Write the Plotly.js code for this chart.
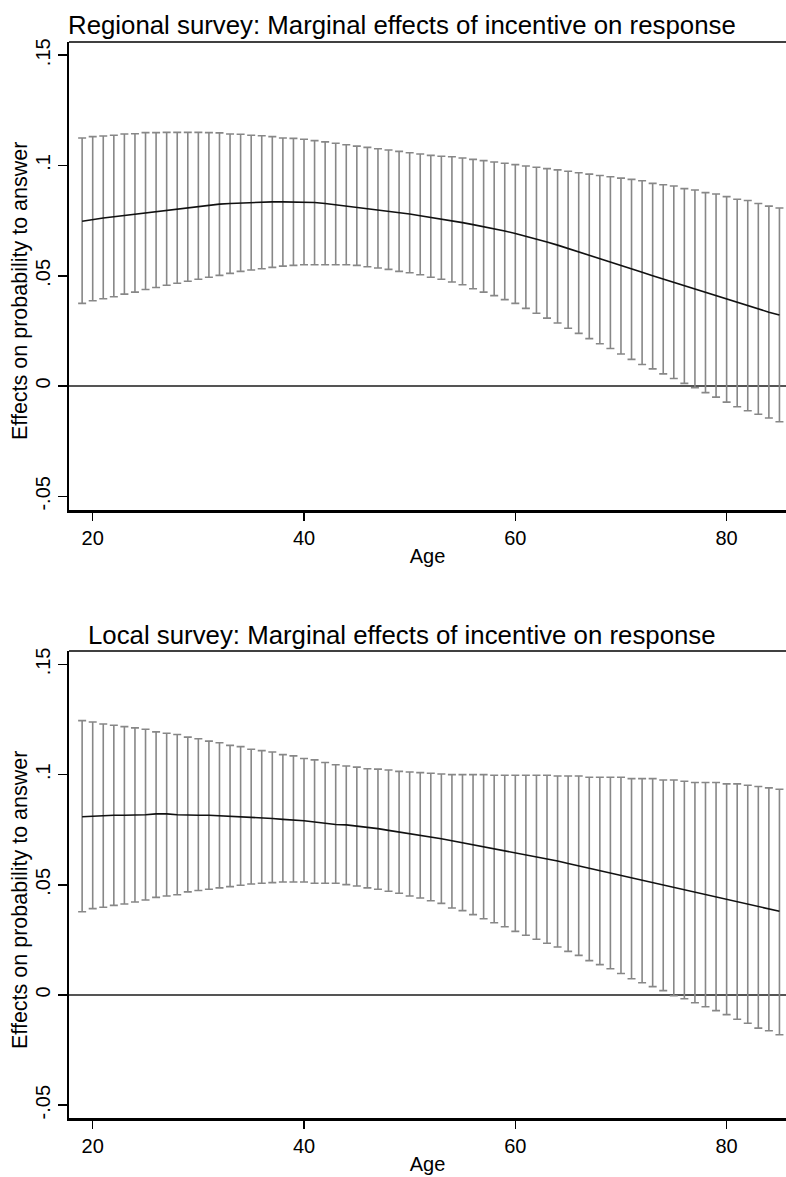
<!DOCTYPE html>
<html>
<head>
<meta charset="utf-8">
<script src="https://cdn.plot.ly/plotly-3.0.1.min.js"></script>
<style>
  html, body { margin: 0; padding: 0; background: #ffffff; }
  #chart { width: 786px; height: 1177px; }
</style>
</head>
<body>
<div id="chart"></div>
<script>
const ages = [19,20,21,22,23,24,25,26,27,28,29,30,31,32,33,34,35,36,37,38,39,40,41,42,43,44,45,46,47,48,49,50,51,52,53,54,55,56,57,58,59,60,61,62,63,64,65,66,67,68,69,70,71,72,73,74,75,76,77,78,79,80,81,82,83,84,85];

const regionalEst = [0.0747,0.0756,0.0762,0.0768,0.0774,0.0780,0.0786,0.0792,0.0798,0.0804,0.0810,0.0816,0.0822,0.0825,0.0828,0.0830,0.0833,0.0834,0.0835,0.0835,0.0835,0.0834,0.0832,0.0828,0.0822,0.0817,0.0812,0.0807,0.0801,0.0795,0.0787,0.0780,0.0772,0.0765,0.0757,0.0749,0.0741,0.0732,0.0723,0.0713,0.0703,0.0692,0.0680,0.0667,0.0653,0.0639,0.0624,0.0609,0.0594,0.0578,0.0562,0.0546,0.0531,0.0516,0.0500,0.0485,0.0469,0.0454,0.0438,0.0423,0.0408,0.0393,0.0378,0.0363,0.0349,0.0335,0.0322];
const regionalUpper = [0.1125,0.1131,0.1134,0.1137,0.1143,0.1144,0.1149,0.1149,0.1150,0.1150,0.1150,0.1150,0.1149,0.1148,0.1143,0.1142,0.1137,0.1135,0.1131,0.1125,0.1123,0.1119,0.1113,0.1107,0.1101,0.1094,0.1088,0.1082,0.1076,0.1070,0.1064,0.1058,0.1052,0.1046,0.1042,0.1040,0.1034,0.1028,0.1022,0.1016,0.1010,0.1004,0.0998,0.0992,0.0986,0.0980,0.0974,0.0967,0.0961,0.0955,0.0949,0.0943,0.0937,0.0931,0.0919,0.0913,0.0907,0.0895,0.0889,0.0877,0.0871,0.0859,0.0847,0.0841,0.0828,0.0816,0.0807];
const regionalLower = [0.0375,0.0387,0.0396,0.0405,0.0417,0.0426,0.0438,0.0447,0.0457,0.0466,0.0475,0.0484,0.0493,0.0502,0.0511,0.0520,0.0526,0.0532,0.0538,0.0544,0.0547,0.0550,0.0550,0.0550,0.0550,0.0550,0.0547,0.0541,0.0535,0.0529,0.0520,0.0514,0.0505,0.0493,0.0484,0.0472,0.0459,0.0441,0.0426,0.0410,0.0392,0.0375,0.0352,0.0330,0.0308,0.0286,0.0262,0.0239,0.0215,0.0192,0.0170,0.0145,0.0121,0.0098,0.0078,0.0055,0.0034,0.0012,-0.0008,-0.0030,-0.0050,-0.0073,-0.0094,-0.0112,-0.0128,-0.0145,-0.0162];

const localEst = [0.0809,0.0812,0.0816,0.0816,0.0816,0.0816,0.0818,0.0822,0.0822,0.0818,0.0816,0.0816,0.0816,0.0814,0.0810,0.0809,0.0808,0.0803,0.0801,0.0797,0.0795,0.0791,0.0785,0.0779,0.0774,0.0772,0.0767,0.0761,0.0755,0.0747,0.0740,0.0733,0.0725,0.0718,0.0709,0.0700,0.0691,0.0682,0.0673,0.0664,0.0655,0.0646,0.0638,0.0629,0.0619,0.0608,0.0597,0.0586,0.0575,0.0564,0.0554,0.0543,0.0533,0.0522,0.0511,0.0500,0.0489,0.0478,0.0467,0.0456,0.0445,0.0434,0.0423,0.0411,0.0401,0.0391,0.0380];
const localUpper = [0.1245,0.1239,0.1230,0.1224,0.1218,0.1212,0.1206,0.1194,0.1188,0.1182,0.1170,0.1163,0.1152,0.1145,0.1133,0.1127,0.1115,0.1109,0.1103,0.1091,0.1085,0.1073,0.1067,0.1055,0.1045,0.1039,0.1034,0.1027,0.1025,0.1021,0.1015,0.1012,0.1009,0.1006,0.1003,0.1000,0.1000,0.1000,0.1000,0.0997,0.0997,0.0997,0.0997,0.0997,0.0997,0.0994,0.0994,0.0994,0.0988,0.0988,0.0988,0.0988,0.0982,0.0982,0.0982,0.0976,0.0976,0.0970,0.0964,0.0964,0.0964,0.0958,0.0958,0.0952,0.0946,0.0940,0.0934];
const localLower = [0.0378,0.0392,0.0398,0.0407,0.0413,0.0422,0.0431,0.0443,0.0449,0.0455,0.0468,0.0474,0.0480,0.0486,0.0492,0.0498,0.0504,0.0507,0.0510,0.0513,0.0513,0.0513,0.0507,0.0507,0.0507,0.0501,0.0495,0.0486,0.0480,0.0471,0.0462,0.0449,0.0440,0.0428,0.0416,0.0395,0.0383,0.0365,0.0346,0.0328,0.0310,0.0289,0.0271,0.0253,0.0235,0.0218,0.0198,0.0180,0.0156,0.0138,0.0119,0.0098,0.0074,0.0056,0.0038,0.0020,-0.0003,-0.0017,-0.0035,-0.0053,-0.0071,-0.0089,-0.0110,-0.0128,-0.0150,-0.0162,-0.0180];

const yTickVals = [-0.05, 0, 0.05, 0.1, 0.15];
const yTickText = ['-.05', '0', '.05', '.1', '.15'];
const xTickVals = [20, 40, 60, 80];
const xTickText = ['20', '40', '60', '80'];
const panelTitles = [
  'Regional survey: Marginal effects of incentive on response',
  'Local survey: Marginal effects of incentive on response'
];
const xTitle = 'Age';
const yTitle = 'Effects on probability to answer';

const W = 786, H = 1177;
const FONT = '"Liberation Sans", Arial, sans-serif';

function px(x) { return x / W; }
function py(y) { return 1 - y / H; }

function ciTraces(est, up, lo, xa, ya) {
  const plus = est.map((v, i) => up[i] - v);
  const minus = est.map((v, i) => v - lo[i]);
  return [
    {
      type: 'scatter', mode: 'lines', x: ages, y: est, xaxis: xa, yaxis: ya,
      line: { color: 'rgba(0,0,0,0)', width: 0.1 },
      error_y: { type: 'data', symmetric: false, array: plus, arrayminus: minus,
                 color: '#878787', thickness: 1.6, width: 4 },
      hoverinfo: 'skip', showlegend: false
    },
    {
      type: 'scatter', mode: 'lines', x: ages, y: est, xaxis: xa, yaxis: ya,
      line: { color: '#111111', width: 1.6 },
      showlegend: false
    }
  ];
}

const data = [].concat(
  ciTraces(regionalEst, regionalUpper, regionalLower, 'x', 'y'),
  ciTraces(localEst, localUpper, localLower, 'x2', 'y2')
);

const xRange = [17.757, 85.62];

function xAxis(anchor) {
  return {
    domain: [px(69), 1], anchor: anchor, range: xRange,
    tickmode: 'array', tickvals: xTickVals, ticktext: xTickText,
    ticks: 'outside', ticklen: 8, tickwidth: 1.5, tickcolor: '#000',
    showline: true, linecolor: '#000', linewidth: 2.5,
    showgrid: false, zeroline: false,
    tickfont: { family: FONT, size: 20, color: '#000' },
    title: { text: xTitle, font: { family: FONT, size: 20, color: '#000' }, standoff: 2 }
  };
}
function yAxis(top, bottom, range, anchor) {
  return {
    domain: [py(bottom), py(top)], anchor: anchor, range: range,
    tickmode: 'array', tickvals: yTickVals, ticktext: yTickText,
    ticks: 'outside', ticklen: 9, tickwidth: 1.5, tickcolor: '#000',
    tickangle: -90,
    showline: true, linecolor: '#000', linewidth: 2,
    showgrid: false,
    zeroline: true, zerolinecolor: '#555555', zerolinewidth: 1.2,
    tickfont: { family: FONT, size: 20, color: '#000' }
  };
}

const layout = {
  width: W, height: H,
  margin: { l: 0, r: 0, t: 0, b: 0 },
  paper_bgcolor: '#ffffff', plot_bgcolor: '#ffffff',
  showlegend: false,
  xaxis: xAxis('y'),
  yaxis: yAxis(42, 510, [-0.0562, 0.1560], 'x'),
  xaxis2: xAxis('y2'),
  yaxis2: yAxis(651, 1118, [-0.0558, 0.1561], 'x2'),
  shapes: [
    { type: 'line', xref: 'paper', yref: 'paper', x0: px(69), x1: 1, y0: py(42), y1: py(42),
      line: { color: '#000', width: 1.5 } },
    { type: 'line', xref: 'paper', yref: 'paper', x0: px(69), x1: 1, y0: py(651), y1: py(651),
      line: { color: '#000', width: 1.5 } }
  ],
  annotations: [
    { text: panelTitles[0], xref: 'paper', yref: 'paper', x: px(401.5), y: py(25),
      xanchor: 'center', yanchor: 'middle', showarrow: false,
      font: { family: FONT, size: 25.8, color: '#000' } },
    { text: panelTitles[1], xref: 'paper', yref: 'paper', x: px(401.5), y: py(635),
      xanchor: 'center', yanchor: 'middle', showarrow: false,
      font: { family: FONT, size: 25.8, color: '#000' } },
    { text: yTitle, xref: 'paper', yref: 'paper', x: px(20), y: py(291),
      xanchor: 'center', yanchor: 'middle', textangle: -90, showarrow: false,
      font: { family: FONT, size: 21.5, color: '#000' } },
    { text: yTitle, xref: 'paper', yref: 'paper', x: px(20), y: py(900),
      xanchor: 'center', yanchor: 'middle', textangle: -90, showarrow: false,
      font: { family: FONT, size: 21.5, color: '#000' } }
  ]
};

Plotly.newPlot('chart', data, layout, { staticPlot: true, displayModeBar: false });
</script>
</body>
</html>
